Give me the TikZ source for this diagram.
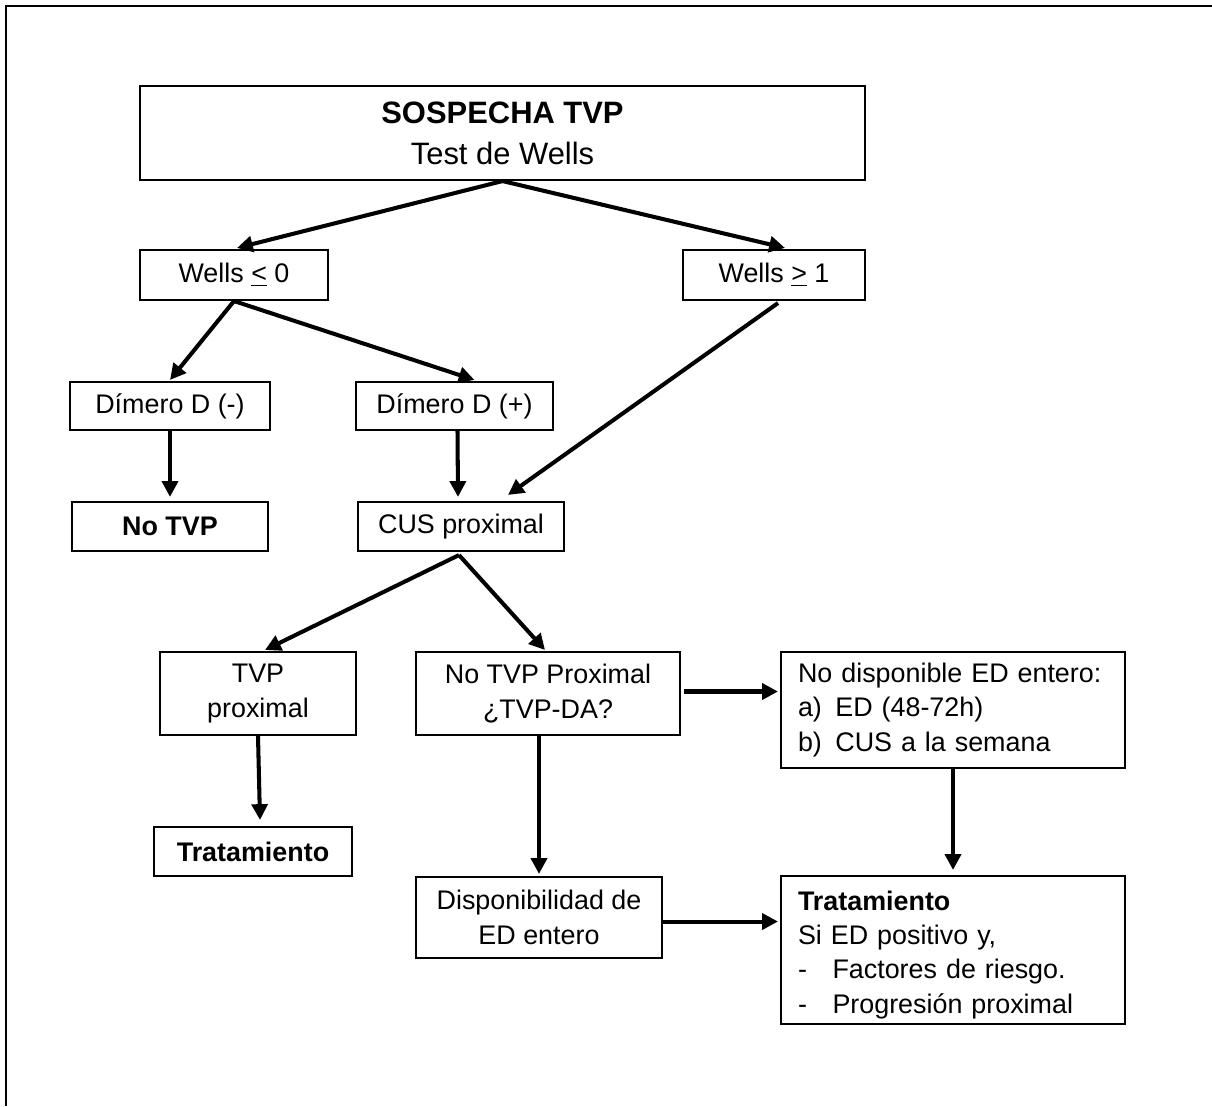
\documentclass[tikz,border=0pt]{standalone}
\usepackage{fontspec}
\setmainfont{Liberation Sans}
\usetikzlibrary{arrows.meta,calc}
\begin{document}
\begin{tikzpicture}[x=0.02cm,y=-0.02cm,
  box/.style={draw,line width=1.2pt,inner sep=0pt,align=center,
    font=\fontsize{15.3}{19.5}\selectfont},
  listbox/.style={box,align=left,inner xsep=0.34cm,text width=6.2cm,
    minimum width=6.88cm},
  arr/.style={line width=2.3pt,-{Triangle[length=9pt,width=9pt]}}]
\useasboundingbox (0,0) rectangle (1212,1106);
% open frame: left and top edges only
\draw[line width=1.6pt] (6,1106) -- (6,6) -- (1212,6);

\node[box,minimum width=14.5cm,minimum height=1.88cm] (top) at (502.5,133)
  {{\fontsize{17.6}{22}\selectfont\bfseries SOSPECHA TVP}\\[4pt]
   {\fontsize{17.6}{22}\selectfont Test de Wells}};
\node[box,minimum width=3.76cm,minimum height=1.0cm] (w0) at (234,275)
  {Wells \underline{<} 0};
\node[box,minimum width=3.64cm,minimum height=1.0cm] (w1) at (774,275)
  {Wells \underline{>} 1};
\node[box,minimum width=4.0cm,minimum height=0.96cm] (dneg) at (170,406)
  {Dímero D (-)};
\node[box,minimum width=3.94cm,minimum height=0.96cm] (dpos) at (454.5,406)
  {Dímero D (+)};
\node[box,minimum width=3.92cm,minimum height=0.98cm] (notvp) at (170,526.5)
  {\bfseries No TVP};
\node[box,minimum width=4.12cm,minimum height=0.98cm] (cus) at (461,526.5)
  {CUS proximal};
\node[box,minimum width=3.92cm,minimum height=1.66cm] (tvpp) at (258,693.5)
  {TVP\\proximal};
\node[box,minimum width=5.28cm,minimum height=1.66cm] (ntp) at (548,693.5)
  {No TVP Proximal\\¿TVP-DA?};
\node[listbox,minimum height=2.32cm] (nodisp) at (953,710)
  {No disponible ED entero:\\
   a)\hspace{0.5em}ED (48-72h)\\
   b)\hspace{0.5em}CUS a la semana};
\node[box,minimum width=3.96cm,minimum height=0.98cm] (trat) at (253,851.5)
  {\bfseries Tratamiento};
\node[box,minimum width=4.92cm,minimum height=1.62cm] (disp) at (539,917.5)
  {Disponibilidad de\\ED entero};
\node[listbox,minimum height=2.96cm] (trat2) at (953,950)
  {\rule{0pt}{16.6pt}\textbf{Tratamiento}\\
   Si ED positivo y,\\
   -\hspace{0.95em}Factores de riesgo.\\
   -\hspace{0.95em}Progresión proximal};

% connectors
\draw[arr] (top.south) -- ($(w0.north)+(3,-1)$);
\draw[arr] (top.south) -- ($(w1.north)+(11,-1)$);
\draw[arr] (w0.south) -- ($(dneg.north)+(0,-1)$);
\draw[arr] (w0.south) -- ($(dpos.north)+(20,-1)$);
\draw[arr] ($(w1.south)+(4,2)$) -- ($(cus.north)+(47,-6)$);
\draw[arr] (dneg.south) -- ($(notvp.north)+(0,-4)$);
\draw[arr] ($(dpos.south)+(3,0)$) -- ($(cus.north)+(-3,-4)$);
\draw[arr] ($(cus.south)+(-2,3)$) -- ($(tvpp.north)+(7,-1)$);
\draw[arr] ($(cus.south)+(-2,3)$) -- ($(ntp.north)+(-3,-1)$);
\draw[arr] (tvpp.south) -- ($(trat.north)+(7,-6)$);
\draw[arr] ($(ntp.east)+(3,-2)$) -- ($(nodisp.west |- ntp.east)+(-2,-2)$);
\draw[arr] ($(ntp.south)+(-9,0)$) -- ($(disp.north)+(0,-2)$);
\draw[arr] (nodisp.south) -- ($(trat2.north)+(0,-5)$);
\draw[arr] ($(disp.east)+(0,4)$) -- ($(trat2.west |- disp.east)+(-2,4)$);
\end{tikzpicture}
\end{document}
